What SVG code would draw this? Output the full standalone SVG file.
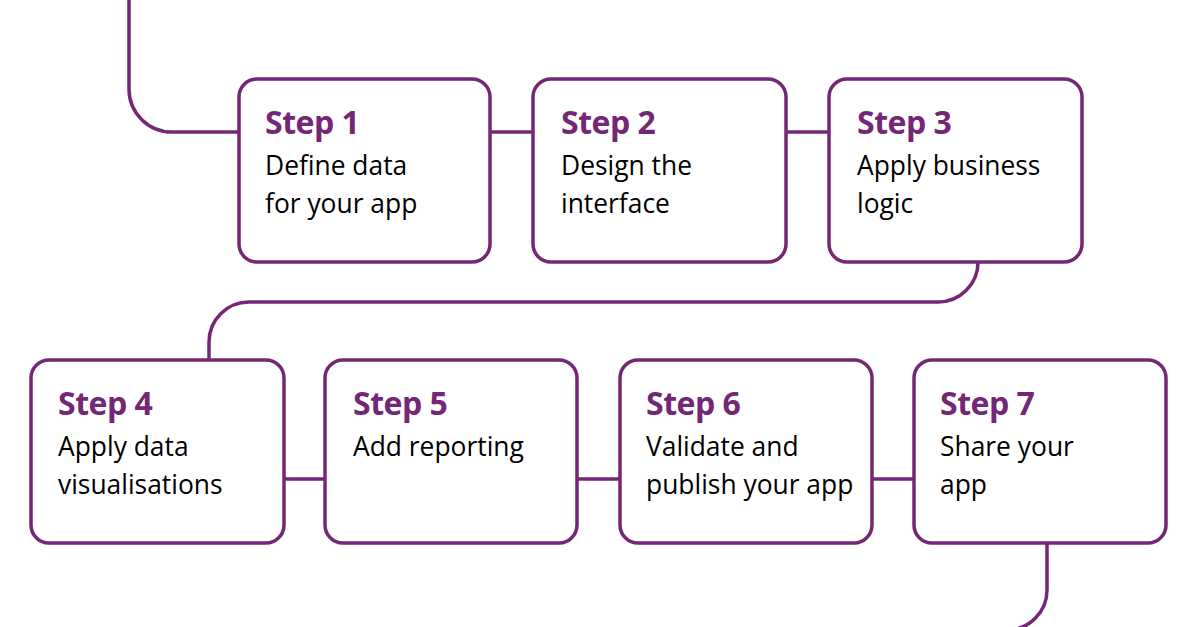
<svg xmlns="http://www.w3.org/2000/svg" width="1200" height="627" viewBox="0 0 1200 627">
<style>
.box{fill:#fff;stroke:#742774;stroke-width:3.5}
.con{fill:none;stroke:#742774;stroke-width:3.5}
.t{font-family:"Open Sans","Noto Sans",sans-serif;font-weight:700;font-size:32px;fill:#742774;letter-spacing:-0.5px}
.b{font-family:"Open Sans","Noto Sans",sans-serif;font-size:26.4px;fill:#000}
</style>
<rect width="1200" height="627" fill="#fff"/>
<g id="connectors">
<path class="con" d="M129,0 V89 A43,43 0 0 0 172,132 H239"/>
<path class="con" d="M490,132 H533"/>
<path class="con" d="M786,132 H829"/>
<path class="con" d="M978,262 V262 A40,40 0 0 1 938,302 H249 A40,40 0 0 0 209,342 V360"/>
<path class="con" d="M284,479 H325"/>
<path class="con" d="M577,479 H620"/>
<path class="con" d="M872,479 H914"/>
<path class="con" d="M1047,543 V590 A40,40 0 0 1 1007,630"/>
</g>
<g id="step1"><rect class="box" x="239" y="79" width="251" height="183" rx="18"/><text class="t" x="265" y="134">Step 1</text><text class="b" x="265" y="175">Define data</text><text class="b" x="265" y="213">for your app</text></g>
<g id="step2"><rect class="box" x="533" y="79" width="253" height="183" rx="18"/><text class="t" x="561" y="134">Step 2</text><text class="b" x="561" y="175">Design the</text><text class="b" x="561" y="213">interface</text></g>
<g id="step3"><rect class="box" x="829" y="79" width="253" height="183" rx="18"/><text class="t" x="857" y="134">Step 3</text><text class="b" x="857" y="175">Apply business</text><text class="b" x="857" y="213">logic</text></g>
<g id="step4"><rect class="box" x="31" y="360" width="253" height="183" rx="18"/><text class="t" x="58" y="415">Step 4</text><text class="b" x="58" y="456">Apply data</text><text class="b" x="58" y="494">visualisations</text></g>
<g id="step5"><rect class="box" x="325" y="360" width="252" height="183" rx="18"/><text class="t" x="353" y="415">Step 5</text><text class="b" x="353" y="456">Add reporting</text></g>
<g id="step6"><rect class="box" x="620" y="360" width="252" height="183" rx="18"/><text class="t" x="646" y="415">Step 6</text><text class="b" x="646" y="456">Validate and</text><text class="b" x="646" y="494">publish your app</text></g>
<g id="step7"><rect class="box" x="914" y="360" width="252" height="183" rx="18"/><text class="t" x="940" y="415">Step 7</text><text class="b" x="940" y="456">Share your</text><text class="b" x="940" y="494">app</text></g>
</svg>
